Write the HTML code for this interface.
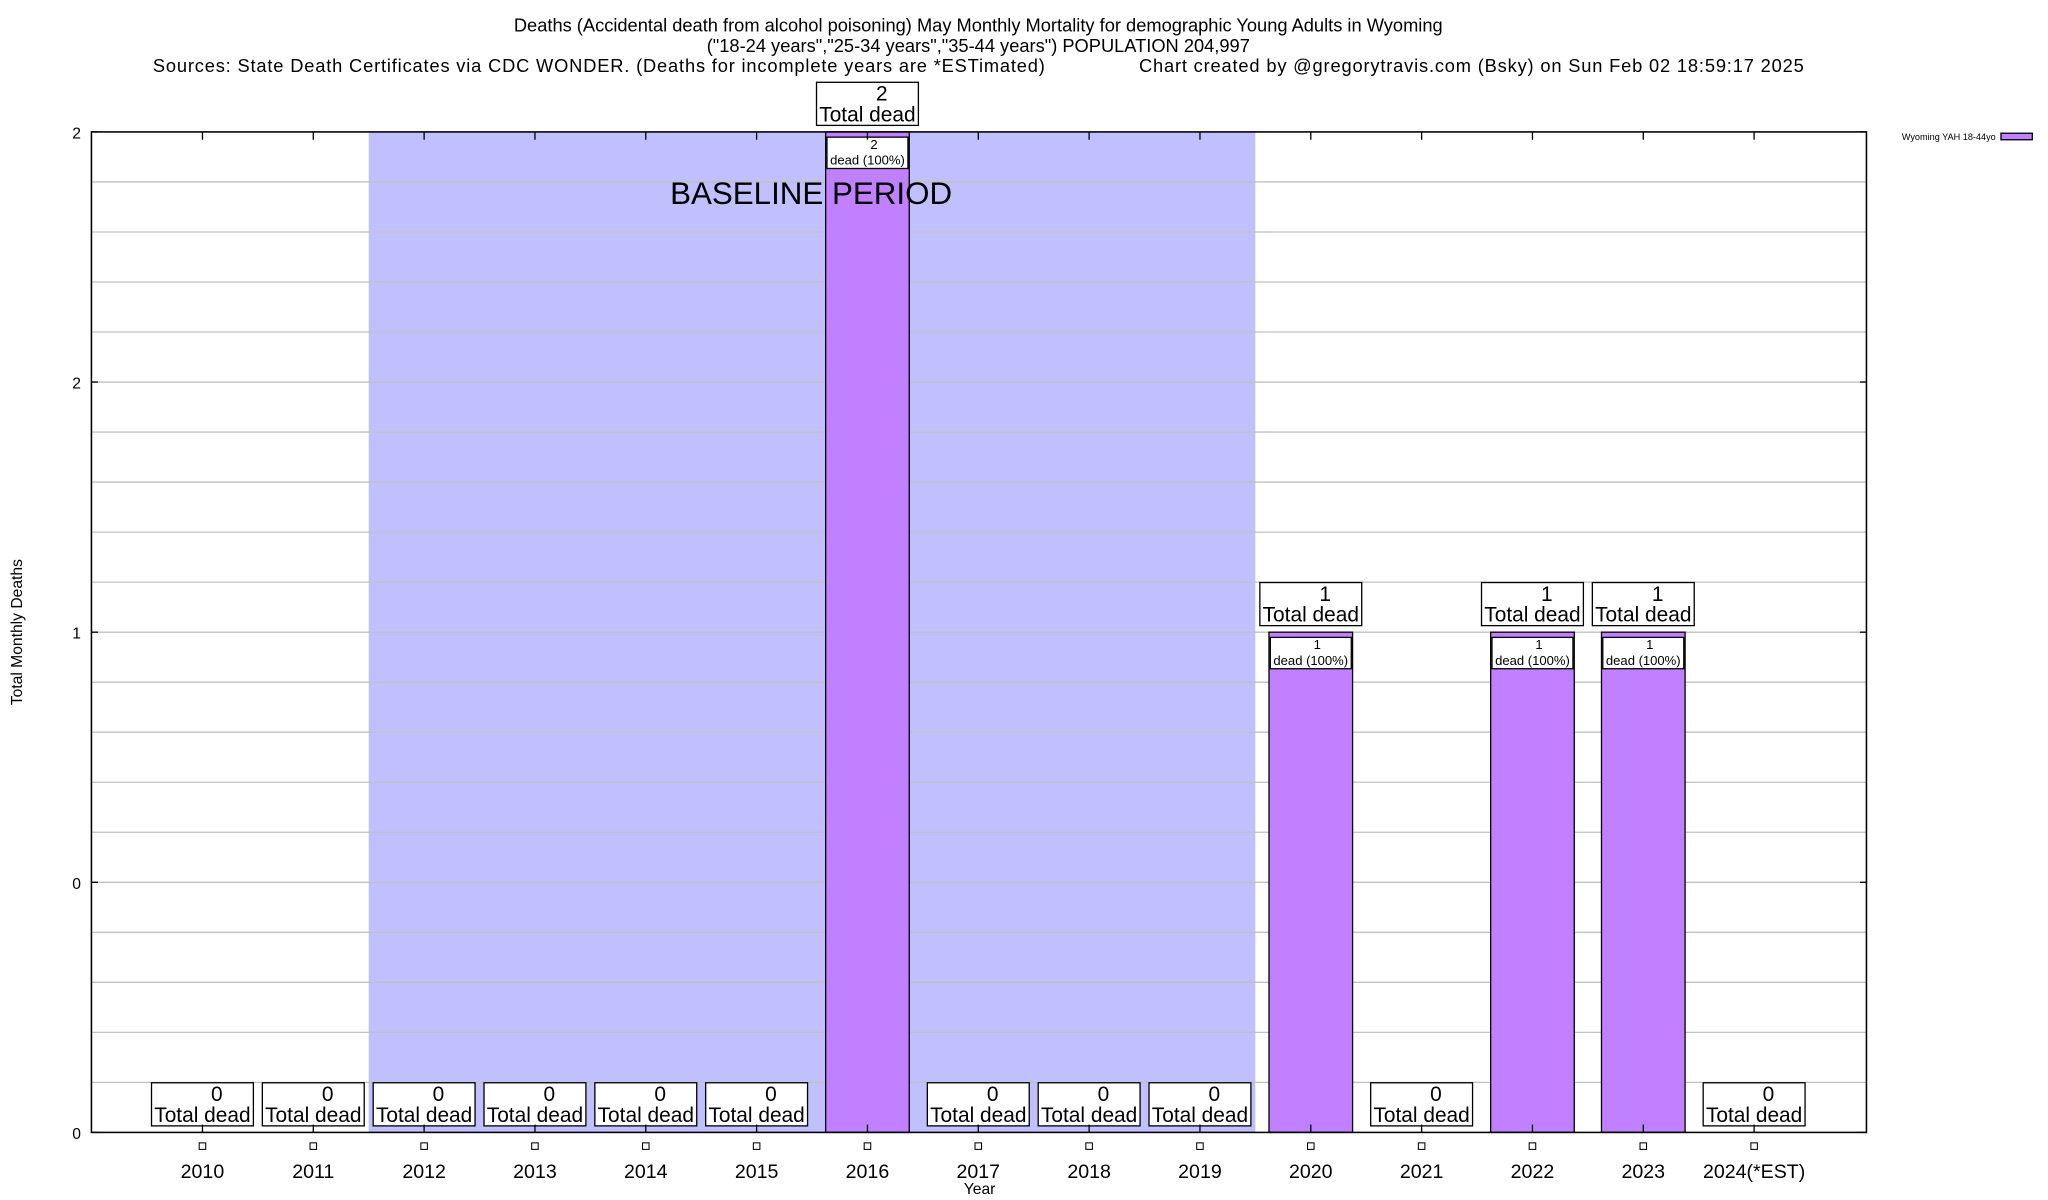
<!DOCTYPE html>
<html><head><meta charset="utf-8"><style>
html,body{margin:0;padding:0;background:#fff;}
svg{display:block;font-family:"Liberation Sans",Arial,sans-serif;}
</style></head><body>
<svg id="chart" width="2048" height="1200" viewBox="0 0 1568 918.75" xmlns="http://www.w3.org/2000/svg">
<g font-size="14" fill="#000">
<text x="749" y="24" text-anchor="middle">Deaths (Accidental death from alcohol poisoning) May Monthly Mortality for demographic Young Adults in Wyoming</text>
<text x="749" y="40" text-anchor="middle">("18-24 years","25-34 years","35-44 years") POPULATION 204,997</text>
<text x="117" y="55" text-anchor="start" textLength="683">Sources: State Death Certificates via CDC WONDER. (Deaths for incomplete years are *ESTimated)</text>
<text x="872" y="55" text-anchor="start" textLength="509">Chart created by @gregorytravis.com (Bsky) on Sun Feb 02 18:59:17 2025</text>
</g>
<g id="grid"></g>
<g id="shade"></g>
<g id="gridtop"></g>
<g id="bars"></g>
<g id="axes"></g>
<text x="621" y="156" font-size="24" text-anchor="middle">BASELINE PERIOD</text>
<text x="750" y="914" font-size="12" text-anchor="middle">Year</text>
<text transform="translate(17,484) rotate(-90)" font-size="12" text-anchor="middle">Total Monthly Deaths</text>
<g>
<text x="1528" y="107" font-size="7" text-anchor="end">Wyoming YAH 18-44yo</text>
<rect x="1532" y="102" width="24" height="5" fill="#c080ff" stroke="#000" stroke-width="1"/>
</g>
</svg>
<script>
const categories=["2010","2011","2012","2013","2014","2015","2016","2017","2018","2019","2020","2021","2022","2023","2024(*EST)"];
const values=[0,0,0,0,0,0,2,0,0,0,1,0,1,1,0];
const yTickValues=[0,0.5,1,1.5,2];
const yTickLabels=["0","0","1","2","2"];
const baselineRange=[2,9];
const yMax=2;
const NS="http://www.w3.org/2000/svg";
const L=70,R=1429,T=101,B=867;
const x0=155,step=(1343-155)/14,bw=64;
function xs(i){return x0+i*step;}
function ys(v){return B-(v/yMax)*(B-T);}
function mk(tag,attrs,parent,text){const e=document.createElementNS(NS,tag);for(const k in attrs)e.setAttribute(k,attrs[k]);if(text!==undefined)e.textContent=text;parent.appendChild(e);return e;}
const shade=document.getElementById('shade'),gt=document.getElementById('gridtop'),bars=document.getElementById('bars'),axes=document.getElementById('axes');
const sr=mk('rect',{x:xs(baselineRange[0])-step/2,y:T,width:(baselineRange[1]-baselineRange[0]+1)*step,height:B-T,fill:'#c0c0ff'},shade);


for(let k=1;k<20;k++){const y=ys(k*0.1);
const g=mk('line',{x1:L,x2:R,y1:y,y2:y,stroke:'#c0c0c0','stroke-width':1},gt);

}
values.forEach((v,i)=>{const cx=xs(i);
if(v>0){const r=mk('rect',{x:cx-bw/2,y:ys(v),width:bw,height:B-ys(v),fill:'#c080ff',stroke:'#000','stroke-width':1},bars);


const ib=mk('rect',{x:cx-bw/2+1,y:ys(v)+4,width:bw-2,height:24,fill:'#fff',stroke:'#000','stroke-width':1},bars);


const t1=mk('text',{x:cx+5,y:ys(v)+13,'font-size':10,'text-anchor':'middle'},bars,String(v));


const t2=mk('text',{x:cx,y:ys(v)+25,'font-size':10,'text-anchor':'middle'},bars,'dead (100%)');

}
const top=ys(v)-5;
const lb=mk('rect',{x:cx-39,y:top-33,width:78,height:33,fill:'#fff',stroke:'#000','stroke-width':1},bars);


const a=mk('text',{x:cx+11,y:top-19,'font-size':16,'text-anchor':'middle'},bars,String(v));


const b=mk('text',{x:cx,y:top-3,'font-size':16,'text-anchor':'middle'},bars,'Total dead');


mk('line',{x1:cx,x2:cx,y1:B,y2:B-6,stroke:'#000'},axes);
mk('line',{x1:cx,x2:cx,y1:T,y2:T+6,stroke:'#000'},axes);
const sq=mk('rect',{x:cx-2.5,y:875,width:5,height:5,fill:'#fff',stroke:'#000','stroke-width':0.8},axes);


const xl=mk('text',{x:cx,y:902,'font-size':15,'text-anchor':'middle'},axes,categories[i]);


});
const fr=mk('rect',{x:L,y:T,width:R-L,height:B-T,fill:'none',stroke:'#000','stroke-width':1.2},axes);


yTickValues.forEach((v,i)=>{const y=ys(v);
mk('line',{x1:L,x2:L+5,y1:y,y2:y,stroke:'#000'},axes);
mk('line',{x1:R,x2:R-5,y1:y,y2:y,stroke:'#000'},axes);
const t=mk('text',{x:62,y:y+5,'font-size':12,'text-anchor':'end'},axes,yTickLabels[i]);

});
</script>
</body></html>
